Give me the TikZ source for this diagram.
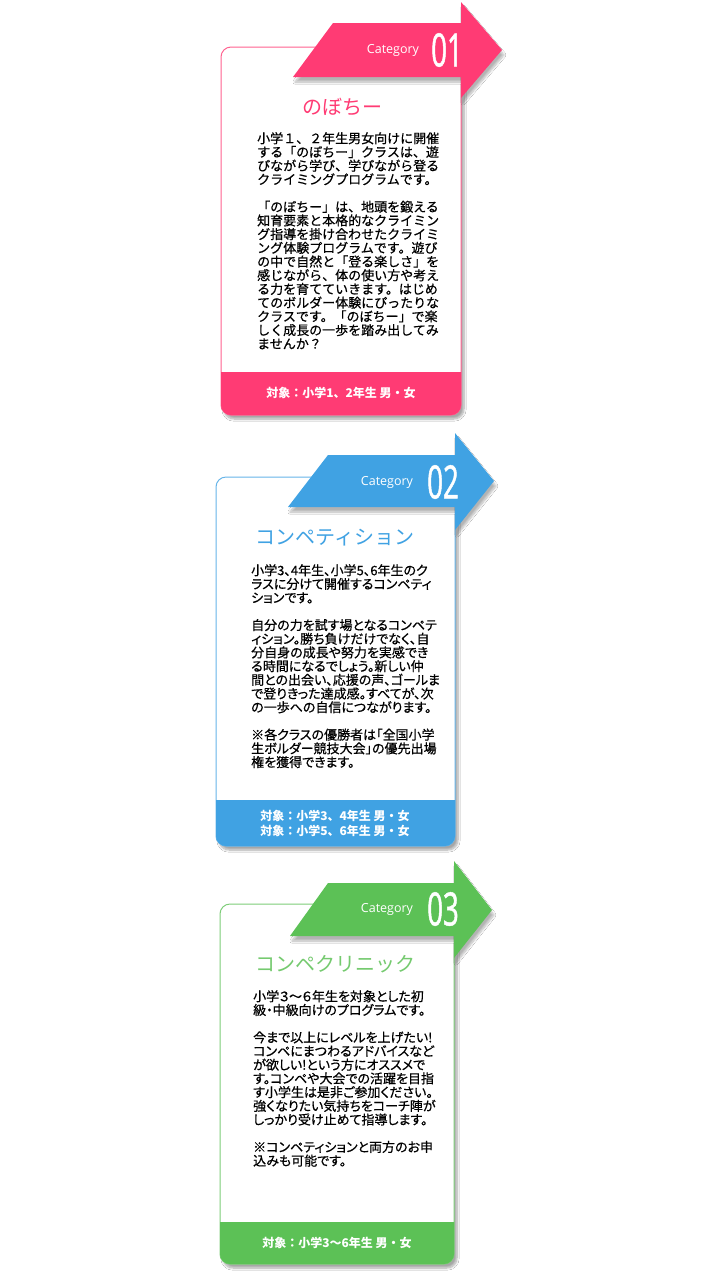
\documentclass[tikz,border=0pt]{standalone}
\usepackage{fontspec}
\setmainfont{Noto Sans CJK JP}
\newfontfamily\jpbody[FakeBold=0.6]{Noto Sans CJK JP}
\newfontfamily\jpprop[RawFeature=+palt,FakeBold=0.6]{Noto Sans CJK JP}
\newfontfamily\catfont{Open Sans}
\newfontfamily\numfont[FakeStretch=0.6,FakeBold=1]{Open Sans}
\usetikzlibrary{shadows.blur}
\definecolor{pinkc}{HTML}{FF3B74}
\definecolor{bluec}{HTML}{40A2E3}
\definecolor{greenc}{HTML}{5CC156}
\begin{document}
\begin{tikzpicture}[x=1pt,y=-1pt,card/.style={fill=white,rounded corners=10,line width=1pt,blur shadow={shadow xshift=3pt,shadow yshift=-4pt,shadow blur steps=8,shadow opacity=35}},flag/.style={blur shadow={shadow xshift=2pt,shadow yshift=-5pt,shadow blur steps=8,shadow opacity=30}},title/.style={font=\fontsize{20}{24}\selectfont},body/.style={anchor=north west,inner sep=0,align=left,font=\jpbody\fontsize{13}{13.7}\selectfont},bodyp/.style={body,font=\jpprop\fontsize{13}{13.7}\selectfont},tag/.style={text=white,align=center,font=\bfseries\fontsize{12}{15}\selectfont},cat/.style={text=white,font=\catfont\fontsize{12.5}{15}\selectfont},num/.style={text=white,inner sep=0,font=\numfont\fontsize{46}{46}\selectfont}]
\useasboundingbox[fill=white] (0,0) rectangle (720,1280);
% card 01
\draw[card,draw=pinkc!80] (221,47) rectangle (461,415);
\fill[pinkc] (221,372) {[rounded corners=10] -- (221,415) -- (461,415)} -- (461,372) -- cycle;
\fill[pinkc,flag] (333,23) -- (461,23) -- (461,2) -- (502,50) -- (461,98) -- (461,77) -- (293,77) -- cycle;
\node[cat] (cat1) at (393,50) {Category};
\node[num] (num1) at (447,50) {01};
\node[title,text=pinkc] (title1) at (342,107) {のぼちー};
\node[body] (body1) at (257,132) {小学１、２年生男女向けに開催\\する「のぼちー」クラスは、遊\\びながら学び、学びながら登る\\クライミングプログラムです。\\[13.7pt]「のぼちー」は、地頭を鍛える\\知育要素と本格的なクライミン\\グ指導を掛け合わせたクライミ\\ング体験プログラムです。遊び\\の中で自然と「登る楽しさ」を\\感じながら、体の使い方や考え\\る力を育てていきます。はじめ\\てのボルダー体験にぴったりな\\クラスです。「のぼちー」で楽\\しく成長の一歩を踏み出してみ\\ませんか？};
\node[tag] (tag1) at (341,393) {対象：小学1、2年生 男・女};
% card 02
\draw[card,draw=bluec!80] (216,477) rectangle (455,846);
\fill[bluec] (216,800) {[rounded corners=10] -- (216,846) -- (455,846)} -- (455,800) -- cycle;
\fill[bluec,flag] (328,455) -- (455,455) -- (455,433) -- (494,481) -- (455,530) -- (455,507) -- (288,507) -- cycle;
\node[cat] (cat2) at (387,482) {Category};
\node[num] (num2) at (443,482) {02};
\node[title,text=bluec] (title2) at (335,538) {コンペティション};
\node[bodyp] (body2) at (251,564) {小学3、4年生、小学5、6年生のク\\ラスに分けて開催するコンペティ\\ションです。\\[13.7pt]自分の力を試す場となるコンペテ\\ィション。勝ち負けだけでなく、自\\分自身の成長や努力を実感でき\\る時間になるでしょう。新しい仲\\間との出会い、応援の声、ゴールま\\で登りきった達成感。すべてが、次\\の一歩への自信につながります。\\[13.7pt]※各クラスの優勝者は「全国小学\\生ボルダー競技大会」の優先出場\\権を獲得できます。};
\node[tag] (tag2) at (335,823) {対象：小学3、4年生 男・女\\対象：小学5、6年生 男・女};
% card 03
\draw[card,draw=greenc!80] (220,904) rectangle (454,1264);
\fill[greenc] (220,1222) {[rounded corners=10] -- (220,1264) -- (454,1264)} -- (454,1222) -- cycle;
\fill[greenc,flag] (328,883) -- (454,883) -- (454,861) -- (492,910) -- (454,958) -- (454,936) -- (290,936) -- cycle;
\node[cat] (cat3) at (387,909) {Category};
\node[num] (num3) at (443,909) {03};
\node[title,text=greenc!85!white] (title3) at (335,964) {コンペクリニック};
\node[bodyp] (body3) at (253,990) {小学３～６年生を対象とした初\\級・中級向けのプログラムです。\\[13.7pt]今まで以上にレベルを上げたい!\\コンペにまつわるアドバイスなど\\が欲しい!という方にオススメで\\す。コンペや大会での活躍を目指\\す小学生は是非ご参加ください。\\強くなりたい気持ちをコーチ陣が\\しっかり受け止めて指導します。\\[13.7pt]※コンペティションと両方のお申\\込みも可能です。};
\node[tag] (tag3) at (337,1243) {対象：小学3～6年生 男・女};
\end{tikzpicture}
\end{document}
